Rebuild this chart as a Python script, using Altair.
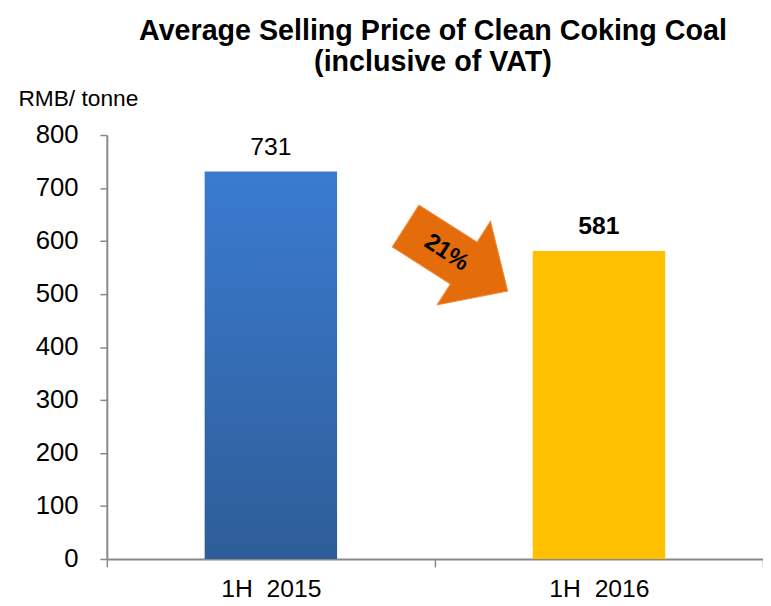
import altair as alt
import pandas as pd

categories = ["1H\u00a0\u00a02015", "1H\u00a0\u00a02016"]
prices = [731, 581]
change_text = "21%"
change_level = [567]

FONT = "Liberation Sans, Arial, sans-serif"

df = pd.DataFrame({"period": categories, "price": prices})
ann = pd.DataFrame({"level": change_level, "txt": [change_text]})

x_enc = alt.X("period:N", sort=categories,
              scale=alt.Scale(paddingInner=0, paddingOuter=0),
              axis=alt.Axis(title=None, labelAngle=0, labelFont=FONT, labelFontSize=25,
                            labelColor="#000000", labelPadding=10, tickBand="extent",
                            tickSize=8, tickColor="#898989", tickWidth=1.5,
                            domainColor="#898989", domainWidth=2, grid=False))
y_enc = alt.Y("price:Q", scale=alt.Scale(domain=[0, 800], nice=False),
              axis=alt.Axis(title="RMB/ tonne", titleAngle=0, titleAlign="left",
                            titleBaseline="alphabetic", titleX=-90, titleY=-30,
                            titleFont=FONT, titleFontSize=23, titleFontWeight="normal",
                            titleColor="#000000",
                            values=[0, 100, 200, 300, 400, 500, 600, 700, 800],
                            labelFont=FONT, labelFontSize=26, labelColor="#000000",
                            labelPadding=22, tickSize=7, tickColor="#898989",
                            tickWidth=1.5, domainColor="#898989", domainWidth=2,
                            grid=False))

blue_grad = alt.Gradient(gradient="linear", x1=0, y1=0, x2=0, y2=1,
                         stops=[alt.GradientStop(color="#3A7BD0", offset=0),
                                alt.GradientStop(color="#2E5D98", offset=1)])

base = alt.Chart(df)
bar1 = base.transform_filter(alt.datum.period == categories[0]).mark_bar(
    width=134, color=blue_grad).encode(x=x_enc, y=y_enc)
bar2 = base.transform_filter(alt.datum.period == categories[1]).mark_bar(
    width=134, color="#FFC000").encode(x=x_enc, y=y_enc)

lab1 = base.transform_filter(alt.datum.period == categories[0]).mark_text(
    font=FONT, fontSize=25, baseline="alphabetic", dy=-17, color="#000000",
    fontWeight="normal").encode(
    x=alt.X("period:N", sort=categories), y="price:Q", text=alt.Text("price:Q"))
lab2 = base.transform_filter(alt.datum.period == categories[1]).mark_text(
    font=FONT, fontSize=25, baseline="alphabetic", dy=-17, color="#000000",
    fontWeight="bold").encode(
    x=alt.X("period:N", sort=categories), y="price:Q", text=alt.Text("price:Q"))

arrow_path = "M -1 -0.41 L 0.14 -0.41 L 0.14 -0.82 L 1 0 L 0.14 0.82 L 0.14 0.41 L -1 0.41 Z"
arrow = alt.Chart(ann).mark_point(shape=arrow_path, filled=True, fill="#E46C0A",
                                  stroke="#F08A3A", strokeWidth=1, opacity=1,
                                  size=15000, angle=32.5).encode(
    x=alt.value(354), y=alt.Y("level:Q"))
arrow_txt = alt.Chart(ann).mark_text(font=FONT, fontSize=24, fontWeight="bold",
                                     color="#000000", angle=33, align="center",
                                     baseline="middle", dy=-7).encode(
    x=alt.value(340), y=alt.Y("level:Q"), text="txt:N")

chart = alt.layer(bar1, bar2, lab1, lab2, arrow, arrow_txt).properties(
    width=664, height=429,
    title=alt.TitleParams(["Average Selling Price of Clean Coking Coal", "(inclusive of VAT)"],
                          font=FONT, fontSize=29, fontWeight="bold", lineHeight=31,
                          color="#000000", anchor="middle", dx=-2, offset=11),
    autosize=alt.AutoSizeParams(type="none"),
    padding={"left": 100, "top": 125, "right": 0, "bottom": 40},
    background="#FFFFFF"
).configure_view(stroke=None)

chart.save("out.html", embed_options={"renderer": "svg", "actions": False})
